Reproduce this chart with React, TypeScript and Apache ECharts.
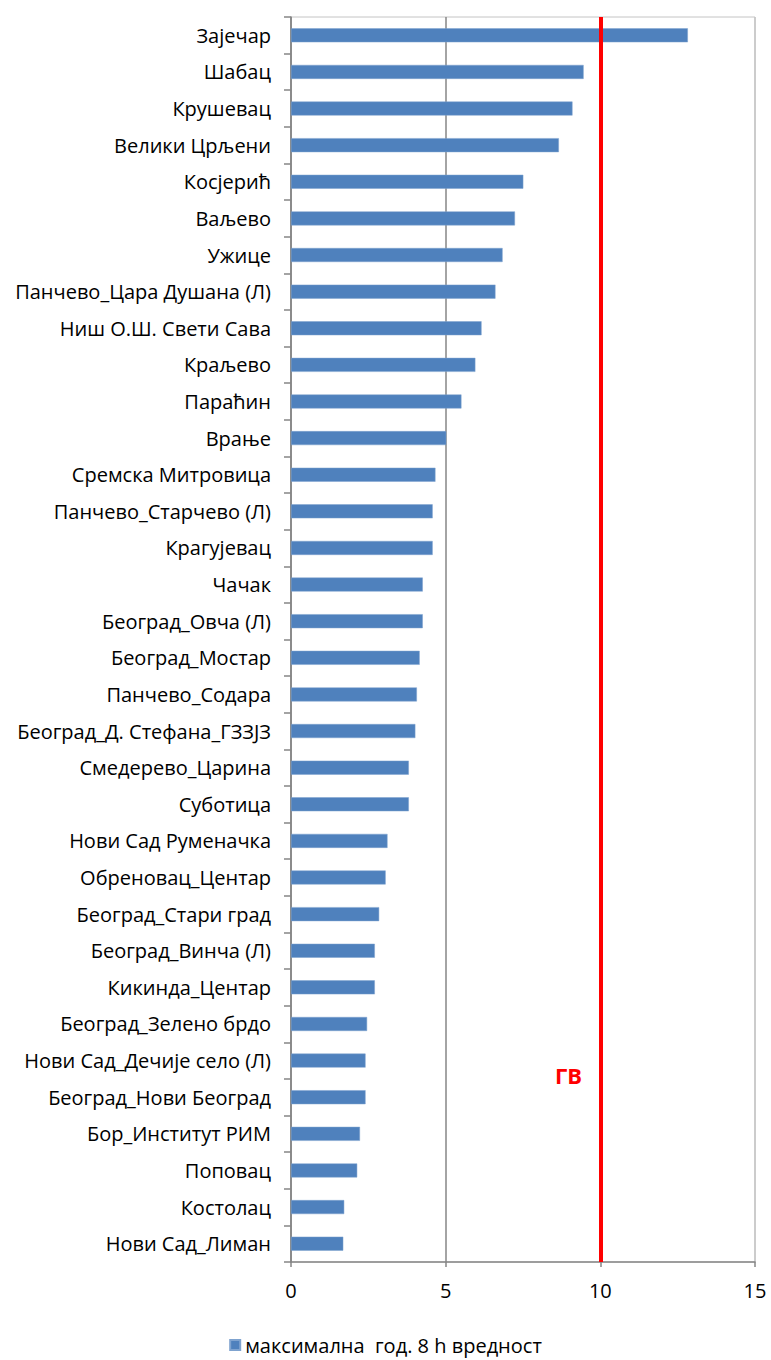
import React, { useEffect, useRef } from "react";
import * as echarts from "echarts";

const categories = [
  "Зајечар",
  "Шабац",
  "Крушевац",
  "Велики Црљени",
  "Косјерић",
  "Ваљево",
  "Ужице",
  "Панчево_Цара Душана (Л)",
  "Ниш О.Ш. Свети Сава",
  "Краљево",
  "Параћин",
  "Врање",
  "Сремска Митровица",
  "Панчево_Старчево (Л)",
  "Крагујевац",
  "Чачак",
  "Београд_Овча (Л)",
  "Београд_Мостар",
  "Панчево_Содара",
  "Београд_Д. Стефана_ГЗЗЈЗ",
  "Смедерево_Царина",
  "Суботица",
  "Нови Сад Руменачка",
  "Обреновац_Центар",
  "Београд_Стари град",
  "Београд_Винча (Л)",
  "Кикинда_Центар",
  "Београд_Зелено брдо",
  "Нови Сад_Дечије село (Л)",
  "Београд_Нови Београд",
  "Бор_Институт РИМ",
  "Поповац",
  "Костолац",
  "Нови Сад_Лиман",
];

const values = [
  12.83, 9.46, 9.1, 8.66, 7.51, 7.24, 6.84, 6.61, 6.16, 5.96, 5.51, 5.02, 4.67,
  4.58, 4.58, 4.26, 4.26, 4.16, 4.07, 4.02, 3.81, 3.81, 3.12, 3.06, 2.85, 2.71,
  2.71, 2.46, 2.41, 2.41, 2.23, 2.14, 1.72, 1.69,
];

const seriesName = "максимална  год. 8 h вредност";
const limitValue = 10;
const limitLabel = "ГВ";
const xTicks = [0, 5, 10, 15];

const FONT = "'Open Sans', sans-serif";

export default function App() {
  const ref = useRef<HTMLDivElement>(null);
  useEffect(() => {
    document.body.style.margin = "0";
    if (!ref.current) return;
    const chart = echarts.init(ref.current, undefined, { renderer: "svg" });
    chart.setOption({
      animation: false,
      textStyle: { fontFamily: FONT },
      grid: {
        left: 291,
        right: 16,
        top: 17,
        bottom: 98,
        containLabel: false,
        show: true,
        borderColor: "#c4c4c4",
        borderWidth: 1,
      },
      legend: {
        bottom: 0,
        left: "center",
        icon: "rect",
        itemWidth: 10,
        itemHeight: 10,
        itemGap: 6,
        textStyle: { fontFamily: FONT, fontSize: 20, color: "#000" },
        data: [seriesName],
      },
      xAxis: {
        type: "value",
        min: xTicks[0],
        max: xTicks[xTicks.length - 1],
        interval: 5,
        axisLine: { show: true, lineStyle: { color: "#868686", width: 1.5 } },
        axisTick: { show: true, length: 5, lineStyle: { color: "#868686", width: 1.5 } },
        axisLabel: { fontFamily: FONT, fontSize: 20, color: "#000", margin: 18 },
        splitLine: {
          show: true,
          lineStyle: { color: ["#868686", "#868686", "#868686", "#c4c4c4"], width: 1.5 },
        },
      },
      yAxis: {
        type: "category",
        inverse: true,
        data: categories,
        axisLine: { show: true, lineStyle: { color: "#868686", width: 1.5 } },
        axisTick: { show: true, length: 7, lineStyle: { color: "#868686", width: 1.5 } },
        axisLabel: { fontFamily: FONT, fontSize: 20, color: "#000", margin: 20 },
        splitLine: { show: false },
      },
      series: [
        {
          name: seriesName,
          type: "bar",
          data: values,
          barWidth: 14,
          itemStyle: { color: "#4f81bd", borderColor: "#7fa3cf", borderWidth: 0.5 },
          markLine: {
            silent: true,
            symbol: "none",
            label: { show: false },
            lineStyle: { color: "#ff0000", width: 4, type: "solid" },
            data: [{ xAxis: limitValue }],
          },
        },
      ],
      graphic: [
        {
          type: "text",
          left: 555,
          top: 1064,
          style: {
            text: limitLabel,
            fill: "#ff0000",
            font: `bold 22px ${FONT}`,
          },
        },
      ],
    });
    return () => chart.dispose();
  }, []);
  return <div ref={ref} style={{ width: 771, height: 1360 }} />;
}
